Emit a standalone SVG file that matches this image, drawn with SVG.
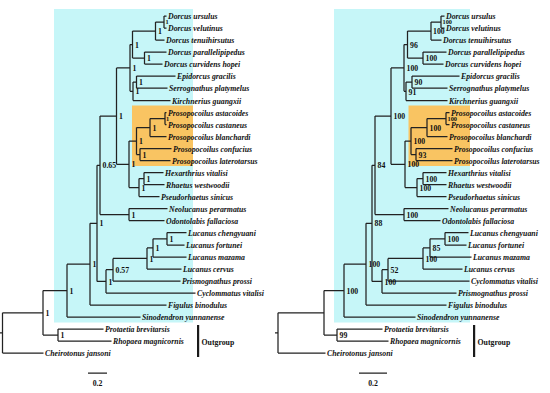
<svg xmlns="http://www.w3.org/2000/svg" width="550" height="393" viewBox="0 0 550 393">
<style>
.tip{font-family:"Liberation Serif",serif;font-style:italic;font-weight:bold;font-size:7.8px;fill:#111}
.sup{font-family:"Liberation Serif",serif;font-weight:bold;font-size:7.8px;fill:#111}
.sm{font-size:6.3px}
.og{font-family:"Liberation Serif",serif;font-weight:bold;font-size:7.8px;fill:#111}
.br{fill:none;stroke:#222;stroke-width:1.25}
.cyan{fill:#c6f6f8}
.orange{fill:#f9c462}
.bar{fill:#1a1a1a}
</style>
<rect width="550" height="393" fill="#fff"/>
<g id="highlights">
<rect class="cyan" x="54" y="9" width="139" height="313.5"/>
<rect class="orange" x="132" y="105.5" width="61" height="60.5"/>
<rect class="cyan" x="334" y="9" width="136" height="313.5"/>
<rect class="orange" x="408.5" y="105.5" width="61.5" height="60.5"/>
</g>
<g id="connectors" class="br">
<path d="M164 16V28M164 16H166.5M164 28H166.5
M155.5 22V40M155.5 22H164M155.5 40H164.5
M144.5 52V64M144.5 52H166.5M144.5 64H162.5
M132.5 31V58M132.5 31H155.5M132.5 58H144.5
M136.5 76V88M136.5 76H175.5M136.5 88H167.5
M133 82V100.5M133 82H136.5M133 100.5H170.5
M130 44.5V91.25M130 44.5H132.5M130 91.25H133
M165 112.5V124.5M165 112.5H166.5M165 124.5H166.5
M150 118.5V136.5M150 118.5H165M150 136.5H166.5
M140 148.5V160.5M140 148.5H171.5M140 160.5H170.5
M136.5 127.5V154.5M136.5 127.5H150M136.5 154.5H140
M144 172.5V184.5M144 172.5H163.5M144 184.5H164.5
M139 178.5V196.5M139 178.5H144M139 196.5H159.5
M129 141V187.5M129 141H136.5M129 187.5H139
M116.5 67.9V164.25M116.5 67.9H130M116.5 164.25H129
M129 208.5V220.5M129 208.5H167.5M129 220.5H164.5
M100 116.1V214.5M100 116.1H116.5M100 214.5H129
M167 232.5V245M167 232.5H186.5M167 245H184.5
M153 238.75V257M153 238.75H167M153 257H186.5
M147 247.9V269M147 247.9H153M147 269H181.5
M113 258.4V281M113 258.4H147M113 281H180.5
M106 269.7V293M106 269.7H113M106 293H195.5
M97 165.3V281.4M97 165.3H100M97 281.4H106
M90 223.3V305M90 223.3H97M90 305H166.5
M67 264.2V317M67 264.2H90M67 317H140.5
M58 329V341M58 329H103.5M58 341H111.5
M43 290.6V335M43 290.6H67M43 335H58
M2.5 312.8V353M2.5 312.8H43M2.5 353H43.5M0 332.9H2.5
M88 373H107"/>
<path d="M441 16V28M441 16H444.5M441 28H444.5
M431 22V40M431 22H441M431 40H441.5
M423 52V64M423 52H446.5M423 64H443.5
M407.5 31V58M407.5 31H431M407.5 58H423
M412 76V88M412 76H459.5M412 88H447.5
M406 82V100.5M406 82H412M406 100.5H447.5
M404 44.5V91.25M404 44.5H407.5M404 91.25H406
M446 112.5V124.5M446 112.5H449.5M446 124.5H449.5
M427 118.5V136.5M427 118.5H446M427 136.5H447.5
M416 148.5V160.5M416 148.5H452.5M416 160.5H452.5
M411 127.5V154.5M411 127.5H427M411 154.5H416
M423 172.5V184.5M423 172.5H446.5M423 184.5H446.5
M417 178.5V196.5M417 178.5H423M417 196.5H446.5
M405 141V187.5M405 141H411M405 187.5H417
M391 67.9V164.25M391 67.9H404M391 164.25H405
M404 208.5V220.5M404 208.5H448.5M404 220.5H440.5
M375 116.1V214.5M375 116.1H391M375 214.5H404
M445 232.5V245M445 232.5H468.5M445 245H466.5
M430 238.75V257M430 238.75H445M430 257H471.5
M423 247.9V269M423 247.9H430M423 269H462.5
M388 258.4V281M388 258.4H423M388 281H469.5
M382 269.7V293M382 269.7H388M382 293H456.5
M372 165.3V281.4M372 165.3H375M372 281.4H382
M366 223.3V305M366 223.3H372M366 305H446.5
M344 264.2V317M344 264.2H366M344 317H415.5
M337 329V341M337 329H382.5M337 341H388.5
M324 290.6V335M324 290.6H344M324 335H337
M278 312.8V353M278 312.8H324M278 353H325.5M275 332.9H278
M359 373H387"/>
</g>
<g id="left-tree-tips">
<g id="L-t0"><text class="tip" x="168" y="19">Dorcus ursulus</text></g>
<g id="L-t1"><text class="tip" x="168" y="31">Dorcus velutinus</text></g>
<g id="L-t2"><text class="tip" x="166" y="43">Dorcus tenuihirsutus</text></g>
<g id="L-t3"><text class="tip" x="168" y="55">Dorcus parallelipipedus</text></g>
<g id="L-t4"><text class="tip" x="164" y="67">Dorcus curvidens hopei</text></g>
<g id="L-t5"><text class="tip" x="177" y="79">Epidorcus gracilis</text></g>
<g id="L-t6"><text class="tip" x="169" y="91">Serrognathus platymelus</text></g>
<g id="L-t7"><text class="tip" x="172" y="103.5">Kirchnerius guangxii</text></g>
<g id="L-t8"><text class="tip" x="168" y="115.5">Prosopocoilus astacoides</text></g>
<g id="L-t9"><text class="tip" x="168" y="127.5">Prosopocoilus castaneus</text></g>
<g id="L-t10"><text class="tip" x="168" y="139.5">Prosopocoilus blanchardi</text></g>
<g id="L-t11"><text class="tip" x="173" y="151.5">Prosopocoilus confucius</text></g>
<g id="L-t12"><text class="tip" x="172" y="163.5">Prosopocoilus laterotarsus</text></g>
<g id="L-t13"><text class="tip" x="165" y="175.5">Hexarthrius vitalisi</text></g>
<g id="L-t14"><text class="tip" x="166" y="187.5">Rhaetus westwoodii</text></g>
<g id="L-t15"><text class="tip" x="161" y="199.5">Pseudorhaetus sinicus</text></g>
<g id="L-t16"><text class="tip" x="169" y="211.5">Neolucanus perarmatus</text></g>
<g id="L-t17"><text class="tip" x="166" y="223.5">Odontolabis fallaciosa</text></g>
<g id="L-t18"><text class="tip" x="188" y="235.5">Lucanus chengyuani</text></g>
<g id="L-t19"><text class="tip" x="186" y="248">Lucanus fortunei</text></g>
<g id="L-t20"><text class="tip" x="188" y="260">Lucanus mazama</text></g>
<g id="L-t21"><text class="tip" x="183" y="272">Lucanus cervus</text></g>
<g id="L-t22"><text class="tip" x="182" y="284">Prismognathus prossi</text></g>
<g id="L-t23"><text class="tip" x="197" y="296">Cyclommatus vitalisi</text></g>
<g id="L-t24"><text class="tip" x="168" y="308">Figulus binodulus</text></g>
<g id="L-t25"><text class="tip" x="142" y="320">Sinodendron yunnanense</text></g>
<g id="L-t26"><text class="tip" x="105" y="332">Protaetia brevitarsis</text></g>
<g id="L-t27"><text class="tip" x="113" y="344">Rhopaea magnicornis</text></g>
<g id="L-t28"><text class="tip" x="45" y="356">Cheirotonus jansoni</text></g>
</g>
<g id="left-tree-support" class="sup">
<text class="sm" x="165.5" y="24.3">1</text>
<text x="158" y="34">1</text>
<text x="147" y="61">1</text>
<text x="135" y="47.5">1</text>
<text x="139" y="85">1</text>
<text x="135.5" y="94">1</text>
<text x="132.5" y="71">1</text>
<text class="sm" x="166" y="120.8">1</text>
<text x="152.5" y="130.5">1</text>
<text x="142.5" y="157.5">1</text>
<text x="139" y="144">1</text>
<text x="146.5" y="181.5">1</text>
<text x="141.5" y="190.5">1</text>
<text x="131.5" y="167">1</text>
<text x="119" y="119">1</text>
<text x="131.5" y="217.5">1</text>
<text x="102.5" y="168">0.65</text>
<text x="169.5" y="241.5">1</text>
<text x="155.5" y="251">1</text>
<text x="149.5" y="261.5">1</text>
<text x="115.5" y="272.5">0.57</text>
<text x="108.5" y="284.5">1</text>
<text x="99.5" y="226">1</text>
<text x="92.5" y="267">1</text>
<text x="69.5" y="293.5">1</text>
<text x="60.5" y="338">1</text>
<text x="45.5" y="316">1</text>
</g>
<g id="right-tree-tips">
<g id="R-t0"><text class="tip" x="446" y="19">Dorcus ursulus</text></g>
<g id="R-t1"><text class="tip" x="446" y="31">Dorcus velutinus</text></g>
<g id="R-t2"><text class="tip" x="443" y="43">Dorcus tenuihirsutus</text></g>
<g id="R-t3"><text class="tip" x="448" y="55">Dorcus parallelipipedus</text></g>
<g id="R-t4"><text class="tip" x="445" y="67">Dorcus curvidens hopei</text></g>
<g id="R-t5"><text class="tip" x="461" y="79">Epidorcus gracilis</text></g>
<g id="R-t6"><text class="tip" x="449" y="91">Serrognathus platymelus</text></g>
<g id="R-t7"><text class="tip" x="449" y="103.5">Kirchnerius guangxii</text></g>
<g id="R-t8"><text class="tip" x="451" y="115.5">Prosopocoilus astacoides</text></g>
<g id="R-t9"><text class="tip" x="451" y="127.5">Prosopocoilus castaneus</text></g>
<g id="R-t10"><text class="tip" x="449" y="139.5">Prosopocoilus blanchardi</text></g>
<g id="R-t11"><text class="tip" x="454" y="151.5">Prosopocoilus confucius</text></g>
<g id="R-t12"><text class="tip" x="454" y="163.5">Prosopocoilus laterotarsus</text></g>
<g id="R-t13"><text class="tip" x="448" y="175.5">Hexarthrius vitalisi</text></g>
<g id="R-t14"><text class="tip" x="448" y="187.5">Rhaetus westwoodii</text></g>
<g id="R-t15"><text class="tip" x="448" y="199.5">Pseudorhaetus sinicus</text></g>
<g id="R-t16"><text class="tip" x="450" y="211.5">Neolucanus perarmatus</text></g>
<g id="R-t17"><text class="tip" x="442" y="223.5">Odontolabis fallaciosa</text></g>
<g id="R-t18"><text class="tip" x="470" y="235.5">Lucanus chengyuani</text></g>
<g id="R-t19"><text class="tip" x="468" y="248">Lucanus fortunei</text></g>
<g id="R-t20"><text class="tip" x="473" y="260">Lucanus mazama</text></g>
<g id="R-t21"><text class="tip" x="464" y="272">Lucanus cervus</text></g>
<g id="R-t22"><text class="tip" x="471" y="284">Cyclommatus vitalisi</text></g>
<g id="R-t23"><text class="tip" x="458" y="296">Prismognathus prossi</text></g>
<g id="R-t24"><text class="tip" x="448" y="308">Figulus binodulus</text></g>
<g id="R-t25"><text class="tip" x="417" y="320">Sinodendron yunnanense</text></g>
<g id="R-t26"><text class="tip" x="384" y="332">Protaetia brevitarsis</text></g>
<g id="R-t27"><text class="tip" x="390" y="344">Rhopaea magnicornis</text></g>
<g id="R-t28"><text class="tip" x="327" y="356">Cheirotonus jansoni</text></g>
</g>
<g id="right-tree-support" class="sup">
<text class="sm" x="442.5" y="24.3">100</text>
<text x="433" y="34">100</text>
<text x="425.5" y="61">100</text>
<text x="410" y="47.5">96</text>
<text x="414.5" y="85">90</text>
<text x="408.5" y="94.5">91</text>
<text x="406.5" y="71">100</text>
<text class="sm" x="447.5" y="120.8">100</text>
<text x="429.5" y="130.5">100</text>
<text x="418.5" y="157.5">93</text>
<text x="413.5" y="144">100</text>
<text x="425.5" y="181.5">100</text>
<text x="419.5" y="190.5">100</text>
<text x="407.5" y="167">100</text>
<text x="393.5" y="119">100</text>
<text x="406.5" y="217.5">100</text>
<text x="377.5" y="168">84</text>
<text x="447.5" y="241.5">100</text>
<text x="432.5" y="251">85</text>
<text x="425.5" y="261.5">100</text>
<text x="390.5" y="272.5">52</text>
<text x="384.5" y="284.5">100</text>
<text x="374.5" y="226">88</text>
<text x="368.5" y="267">100</text>
<text x="346.5" y="293.5">100</text>
<text x="339.5" y="338">99</text>
</g>
<g id="outgroup-left">
<rect class="bar" x="197" y="325" width="2.2" height="32"/>
<text class="og" x="201.5" y="345">Outgroup</text>
</g>
<g id="outgroup-right">
<rect class="bar" x="473" y="325" width="2.2" height="32"/>
<text class="og" x="477.5" y="345">Outgroup</text>
</g>
<g id="scale-left"><text class="sup" x="97.5" y="386" text-anchor="middle">0.2</text></g>
<g id="scale-right"><text class="sup" x="373" y="386" text-anchor="middle">0.2</text></g>
</svg>
